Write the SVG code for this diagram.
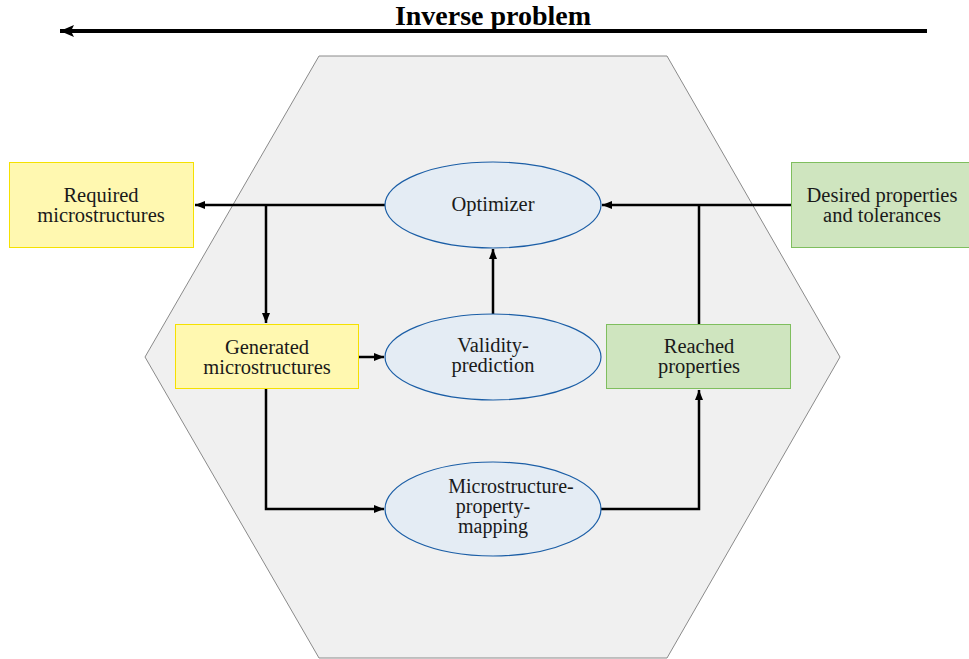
<svg xmlns="http://www.w3.org/2000/svg" width="969" height="659" viewBox="0 0 969 659">
  <defs>
    <marker id="tip" viewBox="0 0 10 8" refX="10" refY="4" markerWidth="10" markerHeight="8" markerUnits="userSpaceOnUse" orient="auto">
      <path d="M0,0 L10,4 L0,8 Z" fill="#000"/>
    </marker>
    <marker id="tipBig" viewBox="0 0 14 12" refX="14" refY="6" markerWidth="14" markerHeight="12" markerUnits="userSpaceOnUse" orient="auto">
      <path d="M0,0 L14,6 L0,12 L3,6 Z" fill="#000"/>
    </marker>
  </defs>
  <style>
    text { font-family: "Liberation Serif", "DejaVu Serif", serif; font-size: 20.5px; fill: #1a1a1a; text-anchor: middle; }
    .title { font-weight: bold; font-size: 28px; fill: #000; }
    .small { font-size: 20px; }
    .yellow { fill: #FFF8B0; stroke: #F5E100; stroke-width: 1; }
    .green { fill: #CFE5BF; stroke: #7FBE5E; stroke-width: 1; }
    .proc { fill: #E4ECF4; stroke: #1B5EA6; stroke-width: 1.2; }
    .edge { fill: none; stroke: #000; stroke-width: 2.5; }
  </style>
  <rect width="969" height="659" fill="#fff"/>

  <!-- title arrow -->
  <g id="inverse-problem">
    <line x1="927" y1="31" x2="60" y2="31" stroke="#000" stroke-width="4" marker-end="url(#tipBig)"/>
    <text class="title" x="493" y="25">Inverse problem</text>
  </g>

  <!-- hexagonal background -->
  <polygon id="hexagon" points="319,56 667,56 840,357 667,658 319,658 145,357" fill="#F0F0F0" stroke="#8A8A8A" stroke-width="1"/>

  <!-- connectors -->
  <g id="connectors">
    <line class="edge" x1="385" y1="205" x2="195" y2="205" marker-end="url(#tip)"/>
    <line class="edge" x1="266" y1="205" x2="266" y2="323" marker-end="url(#tip)"/>
    <line class="edge" x1="791" y1="205" x2="602" y2="205" marker-end="url(#tip)"/>
    <line class="edge" x1="699" y1="324" x2="699" y2="205"/>
    <line class="edge" x1="493" y1="314" x2="493" y2="249" marker-end="url(#tip)"/>
    <line class="edge" x1="359" y1="357" x2="384" y2="357" marker-end="url(#tip)"/>
    <polyline class="edge" points="266,389 266,509 384,509" marker-end="url(#tip)"/>
    <polyline class="edge" points="601,509 699,509 699,390" marker-end="url(#tip)"/>
  </g>

  <g id="required">
    <rect class="yellow" x="9.5" y="162.5" width="184" height="85"/>
    <text x="101" y="202">Required</text>
    <text x="101" y="222">microstructures</text>
  </g>

  <g id="desired">
    <rect class="green" x="791.5" y="162.5" width="178" height="85"/>
    <text x="882" y="202">Desired properties</text>
    <text x="882" y="222">and tolerances</text>
  </g>

  <g id="optimizer">
    <ellipse class="proc" cx="493" cy="205" rx="108" ry="43"/>
    <text x="493" y="211">Optimizer</text>
  </g>

  <g id="generated">
    <rect class="yellow" x="175.5" y="324.5" width="183" height="64"/>
    <text x="267" y="354">Generated</text>
    <text x="267" y="374">microstructures</text>
  </g>

  <g id="validity">
    <ellipse class="proc" cx="493" cy="357" rx="108" ry="43"/>
    <text x="493" y="352">Validity-</text>
    <text x="493" y="372">prediction</text>
  </g>

  <g id="reached">
    <rect class="green" x="606.5" y="324.5" width="184" height="64"/>
    <text x="699" y="353">Reached</text>
    <text x="699" y="373">properties</text>
  </g>

  <g id="mapping">
    <ellipse class="proc" cx="493" cy="509" rx="108" ry="47"/>
    <text class="small" x="511" y="493">Microstructure-</text>
    <text class="small" x="493" y="513">property-</text>
    <text class="small" x="493" y="533">mapping</text>
  </g>
</svg>
